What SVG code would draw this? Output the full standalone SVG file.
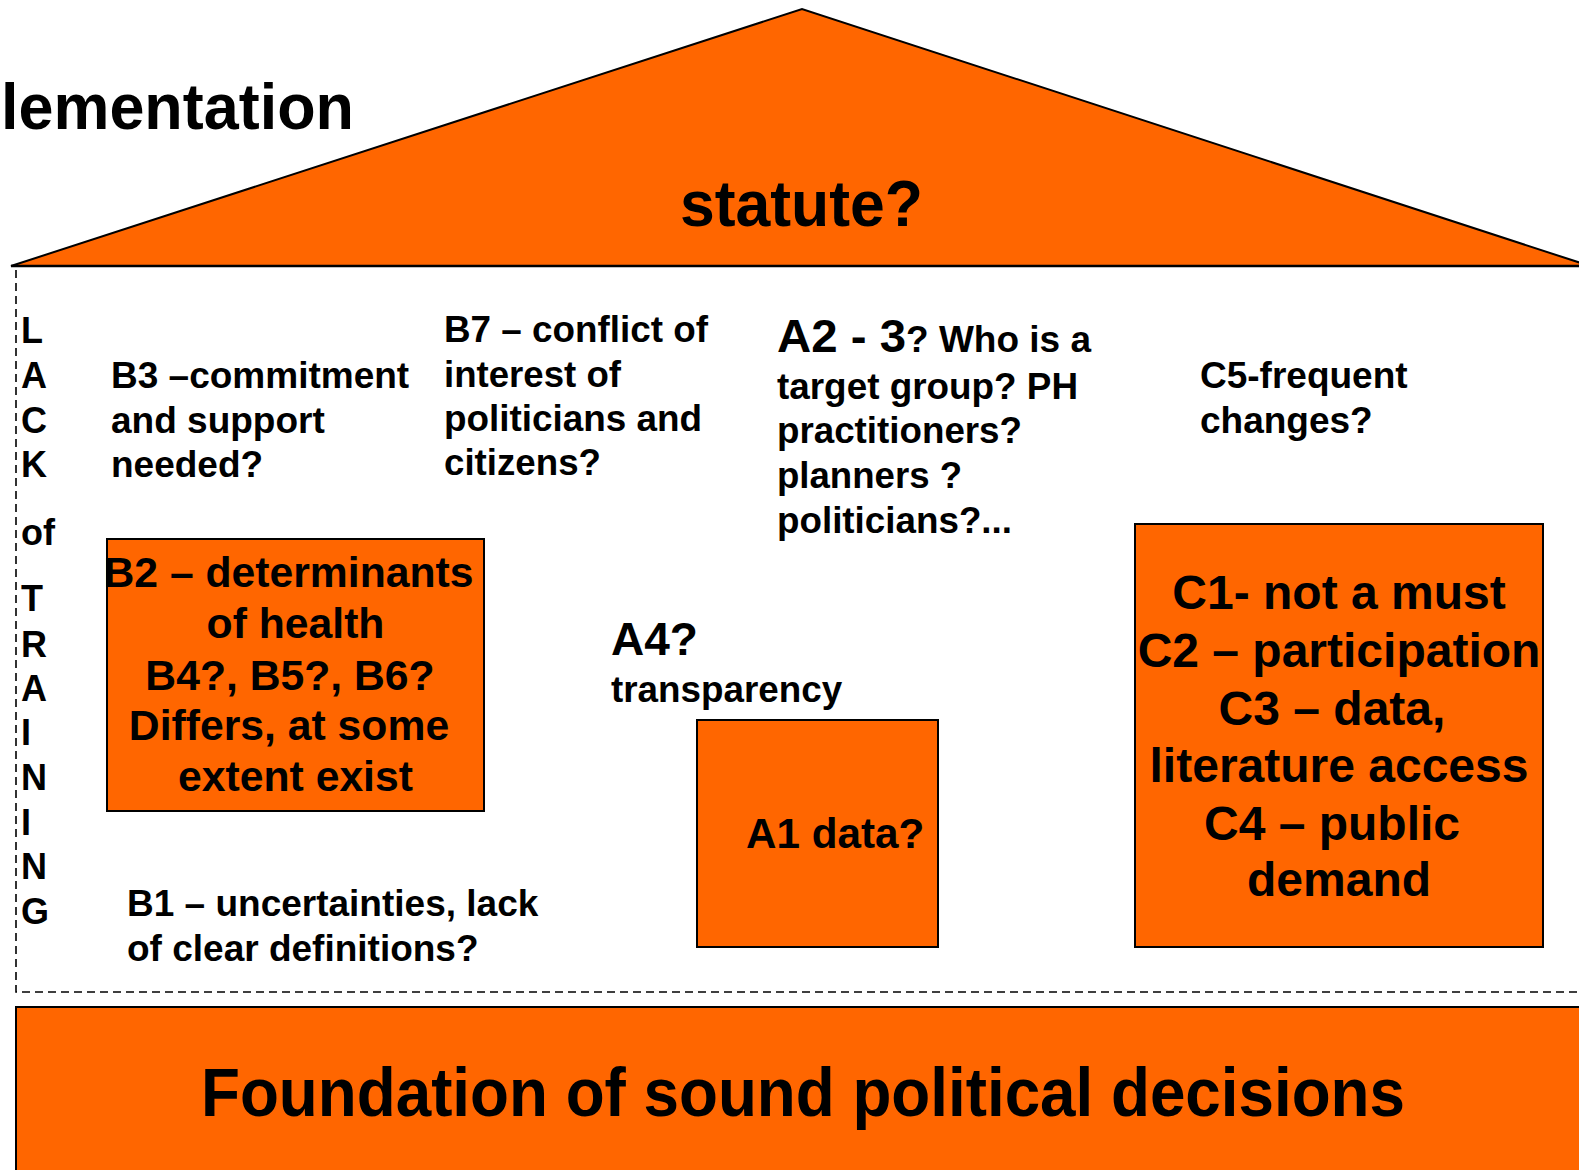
<svg xmlns="http://www.w3.org/2000/svg" width="1579" height="1170" viewBox="0 0 1579 1170">
<style>
.t{font-family:"Liberation Sans",Arial,sans-serif;font-weight:bold;fill:#000}
.box{fill:#FF6600;stroke:#000;stroke-width:2}
.b36{font-size:37px}
.c{text-anchor:middle}
</style>
<rect width="1579" height="1170" fill="#fff"/>
<g id="frame">
<rect x="16" y="266" width="1620" height="726" fill="none" stroke="#000" stroke-width="1.6" stroke-dasharray="8,5"/>
</g>
<g id="roof">
<polygon points="11,266 802,9 1590,266" fill="#FF6600" stroke="#000" stroke-width="2" stroke-linejoin="miter"/>
<line x1="11" y1="266" x2="1579" y2="266" stroke="#000" stroke-width="2.5"/>
<text class="t" x="680" y="226" font-size="64" textLength="243" lengthAdjust="spacingAndGlyphs">statute?</text>
</g>
<g id="title">
<text class="t" x="1" y="129" font-size="64" textLength="353" lengthAdjust="spacingAndGlyphs">lementation</text>
</g>
<g id="lack-of-training" class="t" font-size="36">
<text x="21" y="343">L</text>
<text x="21" y="388">A</text>
<text x="21" y="433">C</text>
<text x="21" y="477">K</text>
<text x="21" y="545">of</text>
<text x="21" y="611">T</text>
<text x="21" y="657">R</text>
<text x="21" y="701">A</text>
<text x="21" y="745">I</text>
<text x="21" y="790">N</text>
<text x="21" y="835">I</text>
<text x="21" y="879">N</text>
<text x="21" y="924">G</text>
</g>
<g id="b3" class="t b36">
<text x="111" y="388">B3 –commitment</text>
<text x="111" y="433">and support</text>
<text x="111" y="477">needed?</text>
</g>
<g id="b7" class="t b36">
<text x="444" y="342" textLength="264" lengthAdjust="spacingAndGlyphs">B7 – conflict of</text>
<text x="444" y="387" textLength="177" lengthAdjust="spacingAndGlyphs">interest of</text>
<text x="444" y="431" textLength="258" lengthAdjust="spacingAndGlyphs">politicians and</text>
<text x="444" y="475" textLength="157" lengthAdjust="spacingAndGlyphs">citizens?</text>
</g>
<g id="a2-3" class="t">
<text x="777" y="352" font-size="47" textLength="129" lengthAdjust="spacingAndGlyphs">A2 - 3</text>
<text x="906" y="352" font-size="36" textLength="185" lengthAdjust="spacingAndGlyphs">? Who is a</text>
<text x="777" y="399" font-size="36" textLength="301" lengthAdjust="spacingAndGlyphs">target group? PH</text>
<text x="777" y="443" font-size="36" textLength="245" lengthAdjust="spacingAndGlyphs">practitioners?</text>
<text x="777" y="488" font-size="36" textLength="185" lengthAdjust="spacingAndGlyphs">planners ?</text>
<text x="777" y="533" font-size="36" textLength="235" lengthAdjust="spacingAndGlyphs">politicians?...</text>
</g>
<g id="c5" class="t b36">
<text x="1200" y="388">C5-frequent</text>
<text x="1200" y="433">changes?</text>
</g>
<g id="b2">
<rect class="box" x="107" y="539" width="377" height="272"/>
<g class="t c" font-size="42.7">
<text x="288.5" y="587">B2 – determinants</text>
<text x="295.5" y="638">of health</text>
<text x="290" y="690">B4?, B5?, B6?</text>
<text x="289" y="740">Differs, at some</text>
<text x="295.5" y="791">extent exist</text>
</g>
</g>
<g id="a4" class="t">
<text x="611" y="655" font-size="46">A4?</text>
<text x="611" y="702" font-size="36.8">transparency</text>
</g>
<g id="a1">
<rect class="box" x="697" y="720" width="241" height="227"/>
<text class="t" x="746" y="848" font-size="42.2">A1 data?</text>
</g>
<g id="c-box">
<rect class="box" x="1135" y="524" width="408" height="423"/>
<g class="t c" font-size="48">
<text x="1339" y="609">C1- not a must</text>
<text x="1339" y="667">C2 – participation</text>
<text x="1332" y="725">C3 – data,</text>
<text x="1339" y="782">literature access</text>
<text x="1332" y="840">C4 – public</text>
<text x="1339" y="896">demand</text>
</g>
</g>
<g id="b1" class="t b36">
<text x="127" y="916">B1 – uncertainties, lack</text>
<text x="127" y="961">of clear definitions?</text>
</g>
<g id="foundation">
<rect class="box" x="16" y="1007" width="1620" height="220"/>
<text class="t" x="201" y="1116" font-size="68" textLength="1204" lengthAdjust="spacingAndGlyphs">Foundation of sound political decisions</text>
</g>
<g id="connectors"></g>
</svg>
